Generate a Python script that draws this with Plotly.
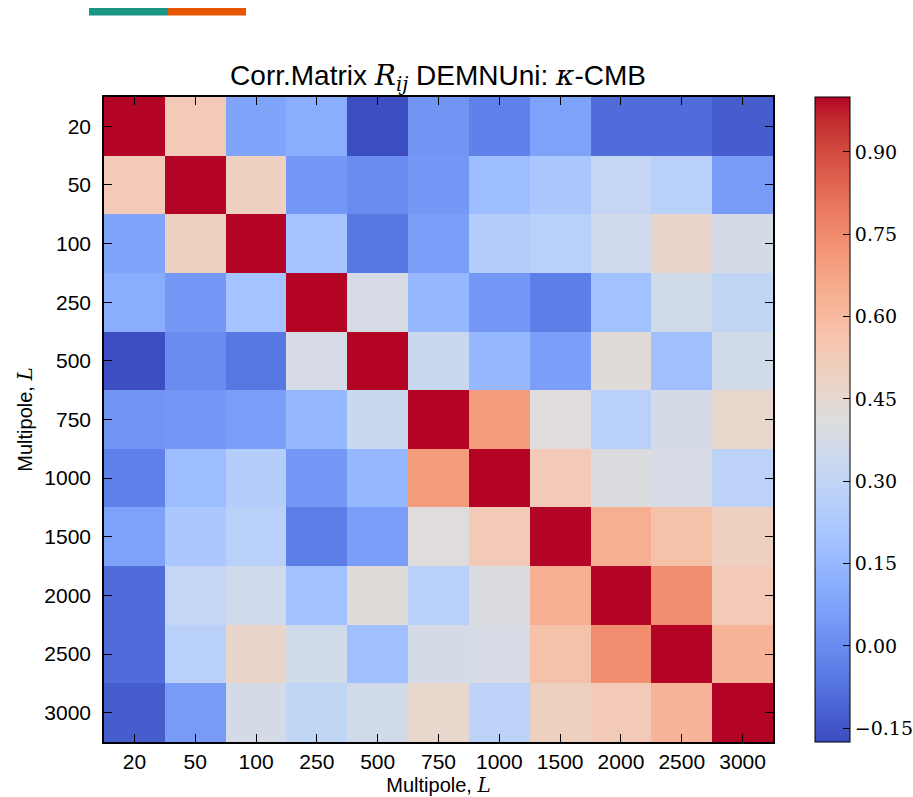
import plotly.graph_objects as go

labels = ["20", "50", "100", "250", "500", "750", "1000", "1500", "2000", "2500", "3000"]

corr = [
    [1.00, 0.53, 0.08, 0.11, -0.17, 0.03, -0.03, 0.07, -0.09, -0.09, -0.13],
    [0.53, 1.00, 0.50, 0.04, 0.00, 0.04, 0.17, 0.22, 0.31, 0.27, 0.05],
    [0.08, 0.50, 1.00, 0.20, -0.06, 0.06, 0.25, 0.27, 0.35, 0.47, 0.37],
    [0.11, 0.04, 0.20, 1.00, 0.38, 0.15, 0.04, -0.04, 0.19, 0.36, 0.30],
    [-0.17, 0.00, -0.06, 0.38, 1.00, 0.33, 0.15, 0.06, 0.43, 0.18, 0.36],
    [0.03, 0.04, 0.06, 0.15, 0.33, 1.00, 0.70, 0.42, 0.27, 0.37, 0.46],
    [-0.03, 0.17, 0.25, 0.04, 0.15, 0.70, 1.00, 0.53, 0.40, 0.38, 0.28],
    [0.07, 0.22, 0.27, -0.04, 0.06, 0.42, 0.53, 1.00, 0.64, 0.57, 0.50],
    [-0.09, 0.31, 0.35, 0.19, 0.43, 0.27, 0.40, 0.64, 1.00, 0.74, 0.53],
    [-0.09, 0.27, 0.47, 0.36, 0.18, 0.37, 0.38, 0.57, 0.74, 1.00, 0.62],
    [-0.13, 0.05, 0.37, 0.30, 0.36, 0.46, 0.28, 0.50, 0.53, 0.62, 1.00],
]

cbar_ticks = [-0.15, 0.00, 0.15, 0.30, 0.45, 0.60, 0.75, 0.90]
cbar_text = ["\u22120.15", "0.00", "0.15", "0.30", "0.45", "0.60", "0.75", "0.90"]

coolwarm_rgb = [
    (59, 76, 192), (68, 90, 204), (77, 104, 215), (87, 117, 225), (98, 130, 234),
    (108, 142, 241), (119, 154, 247), (130, 165, 251), (141, 176, 254), (152, 185, 255),
    (163, 194, 255), (174, 201, 253), (184, 208, 249), (194, 213, 244), (204, 217, 238),
    (213, 219, 230), (221, 221, 221), (229, 216, 209), (236, 211, 197), (241, 204, 185),
    (245, 196, 173), (247, 187, 160), (247, 177, 148), (247, 166, 135), (244, 154, 123),
    (241, 141, 111), (236, 127, 99), (229, 112, 88), (222, 96, 77), (213, 80, 66),
    (203, 62, 56), (192, 40, 47), (180, 4, 38),
]
n = len(coolwarm_rgb)
colorscale = [[i / (n - 1), "rgb(%d,%d,%d)" % c] for i, c in enumerate(coolwarm_rgb)]

SANS = "Liberation Sans, Arial, sans-serif"
SERIF = "DejaVu Serif, Liberation Serif, serif"
IT = "<span style='font-family:DejaVu Serif;font-style:italic'>%s</span>"

fig = go.Figure(
    go.Heatmap(
        z=corr,
        x=labels,
        y=labels,
        colorscale=colorscale,
        zmin=-0.175,
        zmax=1.0,
        colorbar=dict(
            x=(815 - 104) / 669,
            xanchor="left",
            y=0.5,
            yanchor="middle",
            len=1.0,
            lenmode="fraction",
            thickness=35,
            thicknessmode="pixels",
            outlinecolor="black",
            outlinewidth=1,
            tickmode="array",
            tickvals=cbar_ticks,
            ticktext=cbar_text,
            ticks="inside",
            ticklen=7,
            tickcolor="black",
            tickfont=dict(family=SERIF, size=19, color="black"),
            xpad=0,
            ypad=0,
        ),
    )
)

fig.update_layout(
    width=913,
    height=797,
    margin=dict(l=104, r=140, t=97, b=55, autoexpand=False),
    paper_bgcolor="white",
    plot_bgcolor="white",
    title=dict(
        text="Corr.Matrix " + IT % "R" + "<sub>" + IT % "ij" + "</sub>"
        + " DEMNUni: " + IT % "\u03ba" + "-CMB",
        x=0.4993,
        xref="paper",
        xanchor="center",
        y=1 - 75 / 797,
        yref="container",
        yanchor="middle",
        font=dict(family=SANS, size=28, color="black"),
    ),
    xaxis=dict(
        title=dict(
            text="Multipole, " + IT % "L",
            font=dict(family=SANS, size=20, color="black"),
            standoff=6,
        ),
        tickfont=dict(family=SANS, size=21, color="black"),
        ticks="inside",
        ticklen=8,
        tickcolor="black",
        showline=True,
        linecolor="black",
        linewidth=1.5,
        mirror="allticks",
        showgrid=False,
        zeroline=False,
    ),
    yaxis=dict(
        title=dict(
            text="Multipole, " + IT % "L",
            font=dict(family=SANS, size=20, color="black"),
            standoff=6,
        ),
        tickfont=dict(family=SANS, size=21, color="black"),
        ticklabelstandoff=7,
        autorange="reversed",
        ticks="inside",
        ticklen=8,
        tickcolor="black",
        showline=True,
        linecolor="black",
        linewidth=1.5,
        mirror="allticks",
        showgrid=False,
        zeroline=False,
    ),
    shapes=[
        dict(type="rect", xref="paper", yref="paper",
             x0=(89 - 104) / 669, x1=(168 - 104) / 669,
             y0=(742 - 15.5) / 645, y1=(742 - 8) / 645,
             fillcolor="rgb(26,150,135)", line=dict(width=0)),
        dict(type="rect", xref="paper", yref="paper",
             x0=(168 - 104) / 669, x1=(246 - 104) / 669,
             y0=(742 - 15.5) / 645, y1=(742 - 8) / 645,
             fillcolor="rgb(232,85,2)", line=dict(width=0)),
    ],
)

fig.write_html("out.html")
